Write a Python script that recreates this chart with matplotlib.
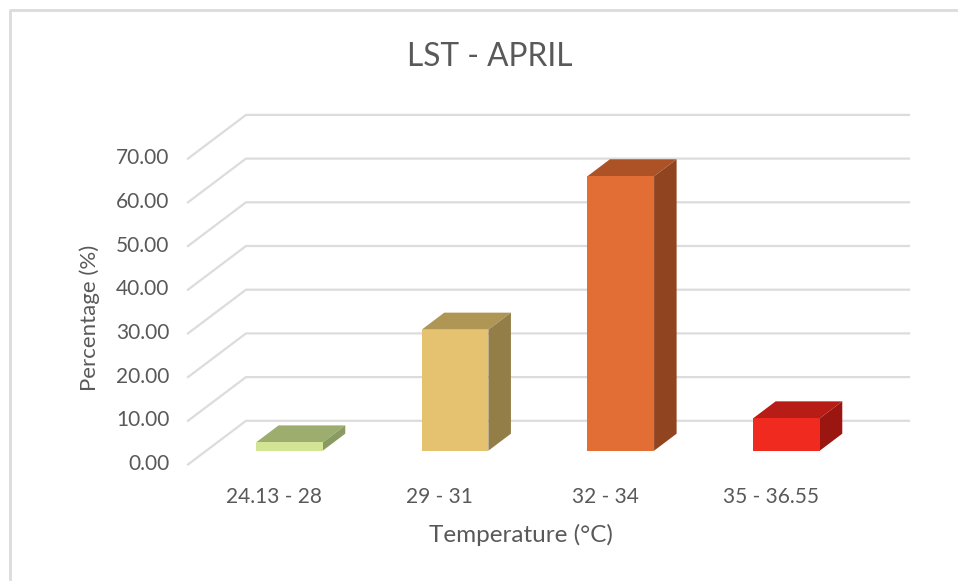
"""LST - April: pseudo-3D column chart -> out.png"""
import matplotlib; matplotlib.use("Agg")
import numpy as np, matplotlib.pyplot as plt
from matplotlib.transforms import ScaledTranslation

CATS = ["24.13 - 28", "29 - 31", "32 - 34", "35 - 36.55"]
VALS = [1.9, 27.7, 62.8, 7.4]
YTICKS = [0, 10, 20, 30, 40, 50, 60, 70]
C_FRONT = ["#D3E594", "#E4C270", "#E26D35", "#F12A20"]
C_TOP = ["#9DAD6E", "#B09655", "#AC5226", "#B71C16"]
C_SIDE = ["#8A9B62", "#937E47", "#914420", "#9B1610"]
C_TEXT, C_GRID = "#595959", "#DCDCDC"

W, H = 958, 581
BAR_W = 0.4025           # bar width, in categories
BASE_DX, BASE_DY = 0.095, 3.16   # bar front face sits this far into the floor
DEPTH_DX, DEPTH_DY = 0.136, 3.89 # bar depth
BACK_DX, BACK_DY = 0.35, 10      # back wall offset

plt.rcParams["font.family"] = ["Lato", "DejaVu Sans"]
fig = plt.figure(figsize=(W / 100, H / 100), dpi=100)
ax = fig.add_axes([188 / W, 1 - 464.5 / H, 721 / W, 349.6 / H])
ax.set_xlim(-0.517, 3.835); ax.set_ylim(0, 80)
for s in ax.spines.values():
    s.set_visible(False)

# walls
x0, x1 = ax.get_xlim()
for t in YTICKS:
    ax.plot([x0, x0 + BACK_DX, x1], [t, t + BACK_DY, t + BACK_DY], color=C_GRID, lw=1.6, zorder=1, clip_on=False)

# bars: top and side faces as polygons, front face as a bar
for i, v in enumerate(VALS):
    l = i + BASE_DX - BAR_W / 2; r = l + BAR_W
    b = BASE_DY; t = b + v
    ax.fill([l, r, r + DEPTH_DX, l + DEPTH_DX], [t, t, t + DEPTH_DY, t + DEPTH_DY], color=C_TOP[i], lw=0, zorder=3)
    ax.fill([r, r + DEPTH_DX, r + DEPTH_DX, r], [b, b + DEPTH_DY, t + DEPTH_DY, t], color=C_SIDE[i], lw=0, zorder=3)
    ax.bar(i + BASE_DX, v, BAR_W, bottom=b, color=C_FRONT[i], zorder=4)

ax.set_xticks(range(len(CATS))); ax.set_xticklabels(CATS)
ax.set_yticks(YTICKS); ax.set_yticklabels([f"{t:.2f}" for t in YTICKS])
ax.tick_params(axis="both", length=0, labelsize=15, labelcolor=C_TEXT)
ax.tick_params(axis="x", pad=16); ax.tick_params(axis="y", pad=13.5)
up = ScaledTranslation(0, 2.5 / 100, fig.dpi_scale_trans)
for lab in ax.get_yticklabels():
    lab.set_transform(lab.get_transform() + up)

# labels in pixel positions
fig.text(490 / W, 1 - 56.5 / H, "LST - APRIL", ha="center", va="center", fontsize=22.8, color=C_TEXT)
fig.text(90 / W, 1 - 318 / H, "Percentage (%)", ha="center", va="center", rotation=90, fontsize=16, color=C_TEXT)
fig.text(521 / W, 1 - 535 / H, "Temperature (°C)", ha="center", va="center", fontsize=17.5, color=C_TEXT)

# chart frame
fig.add_artist(plt.Line2D([9.5 / W, 9.5 / W, 1], [0, 1 - 9.5 / H, 1 - 9.5 / H], color=C_GRID, lw=2))

fig.savefig("out.png", dpi=100)
